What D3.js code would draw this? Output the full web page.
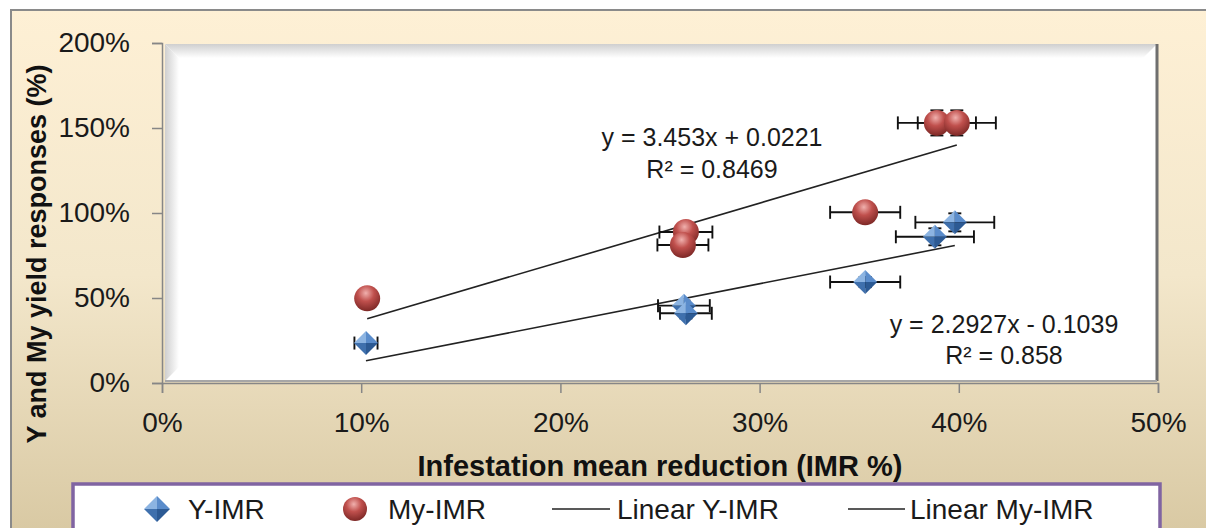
<!DOCTYPE html>
<html>
<head>
<meta charset="utf-8">
<script src="https://cdn.jsdelivr.net/npm/d3@7"></script>
<style>
  body { margin: 0; background: #fff; }
  svg { display: block; font-family: "Liberation Sans", Arial, sans-serif; }
</style>
</head>
<body>
<svg width="1206" height="528"></svg>
<script>
// ---- data ----
const yImrX = [0.1024, 0.262, 0.263, 0.353, 0.388, 0.398];
const yImrY = [0.235, 0.455, 0.41, 0.594, 0.86, 0.945];
const yImrErrX = [0.0058, 0.013, 0.013, 0.0176, 0.0196, 0.0198];
const yImrErrY = [0.02, 0.03, 0.03, 0.03, 0.05, 0.053];

const myImrX = [0.103, 0.263, 0.2615, 0.353, 0.389, 0.399];
const myImrY = [0.498, 0.888, 0.812, 1.004, 1.53, 1.53];
const myImrErrX = [0.003, 0.0133, 0.0128, 0.0176, 0.0196, 0.0196];
const myImrErrY = [0.03, 0.04, 0.04, 0.04, 0.074, 0.074];

// trendline coefficients as printed on the chart [slope, intercept]
const fitY = [2.2927, -0.1039];
const fitMy = [3.453, 0.0221];

const xTicks = [0, 0.1, 0.2, 0.3, 0.4, 0.5];
const yTicks = [0, 0.5, 1, 1.5, 2];
const legendNames = ["Y-IMR", "My-IMR", "Linear Y-IMR", "Linear My-IMR"];

const svg = d3.select("svg");
const defs = svg.append("defs");

// background gradient
const bg = defs.append("linearGradient").attr("id", "bgGrad")
  .attr("x1", 0).attr("y1", 0).attr("x2", 0).attr("y2", 1);
bg.append("stop").attr("offset", 0).attr("stop-color", "#fef0d5");
bg.append("stop").attr("offset", 0.5).attr("stop-color", "#f3e7cb");
bg.append("stop").attr("offset", 1).attr("stop-color", "#d8c8a2");

const bevT = defs.append("linearGradient").attr("id", "bevT")
  .attr("x1", 0).attr("y1", 0).attr("x2", 0).attr("y2", 1);
bevT.append("stop").attr("offset", 0).attr("stop-color", "#cfcfcf");
bevT.append("stop").attr("offset", 1).attr("stop-color", "#ffffff");
const bevL = defs.append("linearGradient").attr("id", "bevL")
  .attr("x1", 0).attr("y1", 0).attr("x2", 1).attr("y2", 0);
bevL.append("stop").attr("offset", 0).attr("stop-color", "#cfcfcf");
bevL.append("stop").attr("offset", 1).attr("stop-color", "#ffffff");

const sph = defs.append("radialGradient").attr("id", "sphere")
  .attr("cx", "45%").attr("cy", "30%").attr("r", "70%");
sph.append("stop").attr("offset", 0).attr("stop-color", "#f0b0ad");
sph.append("stop").attr("offset", 0.45).attr("stop-color", "#c0504d");
sph.append("stop").attr("offset", 1).attr("stop-color", "#7d2826");

svg.append("rect").attr("x", 11).attr("y", 10).attr("width", 1200).attr("height", 530)
  .attr("fill", "url(#bgGrad)").attr("stroke", "#8a8a8a").attr("stroke-width", 2);

const x = d3.scaleLinear().domain([0, 0.5]).range([162, 1158]);
const y = d3.scaleLinear().domain([0, 2]).range([383, 43]);

// plot area with bevel
const px0 = 165, px1 = 1157, py0 = 44, py1 = 381, bw = 14;
svg.append("rect").attr("x", px0).attr("y", py0).attr("width", px1 - px0).attr("height", py1 - py0)
  .attr("fill", "#fff");
svg.append("polygon")
  .attr("points", [[px0, py0], [px1, py0], [px1 - bw, py0 + bw], [px0 + bw, py0 + bw]].join(" "))
  .attr("fill", "url(#bevT)");
svg.append("polygon")
  .attr("points", [[px0, py0], [px0 + bw, py0 + bw], [px0 + bw, py1 - bw], [px0, py1]].join(" "))
  .attr("fill", "url(#bevL)");
svg.append("line").attr("x1", px1).attr("x2", px1).attr("y1", py0).attr("y2", py1)
  .attr("stroke", "#6f6f6f").attr("stroke-width", 3);
svg.append("line").attr("x1", px0).attr("x2", px1).attr("y1", py1).attr("y2", py1)
  .attr("stroke", "#a6a6a6").attr("stroke-width", 2);

// axes
const xAxis = svg.append("g").attr("transform", "translate(0,383)")
  .call(d3.axisBottom(x).tickValues(xTicks).tickFormat(d3.format(".0%")).tickSize(10).tickPadding(19));
const yAxis = svg.append("g").attr("transform", "translate(162,0)")
  .call(d3.axisLeft(y).tickValues(yTicks).tickFormat(d3.format(".0%")).tickSize(10).tickPadding(22));
[xAxis, yAxis].forEach((g) => {
  g.select(".domain").attr("stroke", "#868686").attr("stroke-width", 1.5);
  g.selectAll(".tick line").attr("stroke", "#868686").attr("stroke-width", 1.5);
  g.selectAll("text").attr("font-size", 28).attr("fill", "#1a1a1a")
    .attr("font-family", "Liberation Sans, Arial, sans-serif");
});

// axis titles
svg.append("text").attr("x", 660).attr("y", 476).attr("text-anchor", "middle")
  .attr("font-size", 29).attr("font-weight", "bold").attr("fill", "#111")
  .text("Infestation mean reduction (IMR %)");
svg.append("text").attr("transform", "translate(46,254) rotate(-90)").attr("text-anchor", "middle")
  .attr("font-size", 27).attr("font-weight", "bold").attr("fill", "#111")
  .text("Y and My yield responses (%)");

// trendlines
const trend = (xs, fit) => {
  const x0 = d3.min(xs), x1 = d3.max(xs);
  return [[x0, fit[0] * x0 + fit[1]], [x1, fit[0] * x1 + fit[1]]];
};
const lineGen = d3.line().x((d) => x(d[0])).y((d) => y(d[1]));
[trend(yImrX, fitY), trend(myImrX, fitMy)].forEach((pts) => {
  svg.append("path").attr("d", lineGen(pts)).attr("fill", "none")
    .attr("stroke", "#222").attr("stroke-width", 1.6);
});

// error bars
const drawErr = (xs, ys, ex, ey) => {
  const g = svg.append("g").attr("stroke", "#111").attr("stroke-width", 1.9);
  xs.forEach((xv, i) => {
    const cx = x(xv), cy = y(ys[i]);
    const l = x(xv - ex[i]), r = x(xv + ex[i]);
    const t = y(ys[i] + ey[i]), b = y(ys[i] - ey[i]);
    g.append("line").attr("x1", l).attr("x2", r).attr("y1", cy).attr("y2", cy);
    g.append("line").attr("x1", l).attr("x2", l).attr("y1", cy - 6.5).attr("y2", cy + 6.5);
    g.append("line").attr("x1", r).attr("x2", r).attr("y1", cy - 6.5).attr("y2", cy + 6.5);
    g.append("line").attr("x1", cx).attr("x2", cx).attr("y1", t).attr("y2", b);
    g.append("line").attr("x1", cx - 6.5).attr("x2", cx + 6.5).attr("y1", t).attr("y2", t);
    g.append("line").attr("x1", cx - 6.5).attr("x2", cx + 6.5).attr("y1", b).attr("y2", b);
  });
};
drawErr(yImrX, yImrY, yImrErrX, yImrErrY);
drawErr(myImrX, myImrY, myImrErrX, myImrErrY);

// markers
const diamond = (g, cx, cy, s) => {
  const faces = [
    [[cx, cy - s], [cx - s, cy], [cx, cy], "#8cb4e2"],
    [[cx, cy - s], [cx + s, cy], [cx, cy], "#5a8ccb"],
    [[cx - s, cy], [cx, cy + s], [cx, cy], "#3f70ad"],
    [[cx + s, cy], [cx, cy + s], [cx, cy], "#2c5a94"],
  ];
  faces.forEach((f) => {
    g.append("polygon").attr("points", f.slice(0, 3).join(" ")).attr("fill", f[3]);
  });
};
const sphere = (g, cx, cy, r) => {
  g.append("circle").attr("cx", cx).attr("cy", cy).attr("r", r).attr("fill", "url(#sphere)");
};
const mk = svg.append("g");
myImrX.forEach((xv, i) => sphere(mk, x(xv), y(myImrY[i]), 13));
yImrX.forEach((xv, i) => diamond(mk, x(xv), y(yImrY[i]), 12));

// equation labels
const eqs = [
  { lines: [`y = ${fitMy[0]}x + ${fitMy[1]}`, "R² = 0.8469"], cx: 712, by: [146, 178] },
  { lines: [`y = ${fitY[0]}x - ${Math.abs(fitY[1])}`, "R² = 0.858"], cx: 1004, by: [333, 364] },
];
eqs.forEach((e) => {
  e.lines.forEach((t, i) => {
    svg.append("text").attr("x", e.cx).attr("y", e.by[i]).attr("text-anchor", "middle")
      .attr("font-size", 25).attr("fill", "#1a1a1a").text(t);
  });
});

// legend
const lg = svg.append("g");
lg.append("rect").attr("x", 73).attr("y", 484).attr("width", 1087).attr("height", 80)
  .attr("fill", "#fff").attr("stroke", "#8064a2").attr("stroke-width", 3.5);
const ly = 509;
diamond(lg, 157, ly, 13);
sphere(lg, 355, ly, 12);
lg.append("line").attr("x1", 552).attr("x2", 610).attr("y1", ly).attr("y2", ly)
  .attr("stroke", "#222").attr("stroke-width", 1.6);
lg.append("line").attr("x1", 848).attr("x2", 905).attr("y1", ly).attr("y2", ly)
  .attr("stroke", "#222").attr("stroke-width", 1.6);
const lx = [188, 388, 617, 910];
legendNames.forEach((n, i) => {
  lg.append("text").attr("x", lx[i]).attr("y", ly + 10).attr("font-size", 28)
    .attr("fill", "#1a1a1a").text(n);
});
</script>
</body>
</html>
